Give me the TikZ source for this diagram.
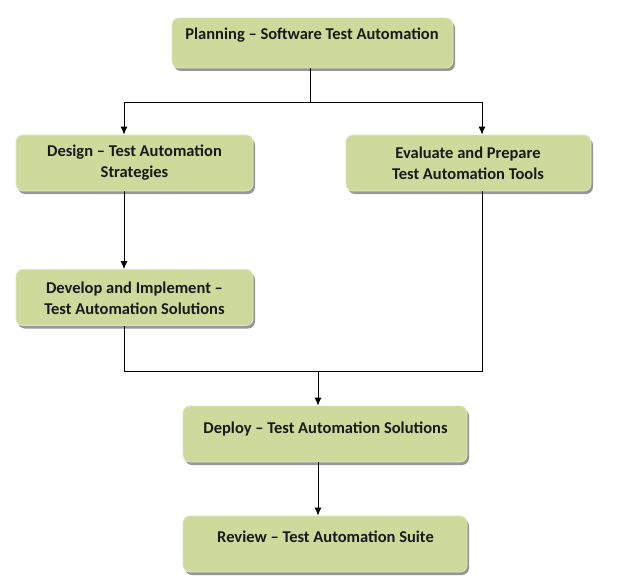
\documentclass[tikz,border=0pt]{standalone}
\usepackage{fontspec}
\setmainfont{Carlito}
\usetikzlibrary{arrows.meta,shadows}
\definecolor{boxfill}{RGB}{205,218,155}
\definecolor{boxedge}{RGB}{222,231,190}
\tikzset{
  box/.style={rectangle, rounded corners=7pt, fill=boxfill, draw=boxedge, line width=0.8pt,
    drop shadow={shadow xshift=2pt, shadow yshift=-3pt, fill=black!45, opacity=0.9},
    inner sep=0pt},
  txt/.style={font=\fontsize{16.5}{21}\selectfont\bfseries, align=center, inner sep=0pt, text=black!90},
  conn/.style={line width=0.9pt, black},
  arr/.style={conn, -{Latex[length=8pt,width=7pt]}}
}
\begin{document}
\begin{tikzpicture}[x=1pt,y=-1pt]
\useasboundingbox (0,0) rectangle (624,586);
% boxes
\node[box, minimum width=281pt, minimum height=50pt] (plan) at (312.5,43) {};
\node[box, minimum width=237pt, minimum height=56pt] (design) at (134.5,163) {};
\node[box, minimum width=245pt, minimum height=56pt] (eval) at (468.5,163) {};
\node[box, minimum width=237pt, minimum height=56pt] (dev) at (134.5,297.5) {};
\node[box, minimum width=284pt, minimum height=56pt] (deploy) at (325,434) {};
\node[box, minimum width=284pt, minimum height=56pt] (review) at (325,544) {};
% texts
\node[txt] (plant) at (312,35) {Planning – Software Test Automation};
\node[txt] (designt) at (134.5,163) {Design – Test Automation\\Strategies};
\node[txt] (evalt) at (468,163) {Evaluate and Prepare\\Test Automation Tools};
\node[txt] (devt) at (134.5,298) {Develop and Implement –\\Test Automation Solutions};
\node[txt] (deployt) at (325.5,429) {Deploy – Test Automation Solutions};
\node[txt] (reviewt) at (325.5,537) {Review – Test Automation Suite};
% junctions
\coordinate (jt) at (310,102);
\coordinate (jl) at (124,102);
\coordinate (jr) at (482,102);
\coordinate (bl) at (124,371);
\coordinate (br) at (482,371);
\coordinate (jb) at (318,371);
% connectors
\draw[conn] (plan.south -| jt) -- (jt);
\draw[conn] (jl) -- (jr);
\draw[arr] (jl) -- (jl |- design.north);
\draw[arr] (jr) -- (jr |- eval.north);
\draw[arr] (design.south -| jl) -- (jl |- dev.north);
\draw[conn] (dev.south -| bl) -- (bl) -- (br) -- (eval.south -| br);
\draw[arr] (jb) -- (jb |- deploy.north);
\draw[arr] (deploy.south -| jb) -- (jb |- review.north);
\end{tikzpicture}
\end{document}
